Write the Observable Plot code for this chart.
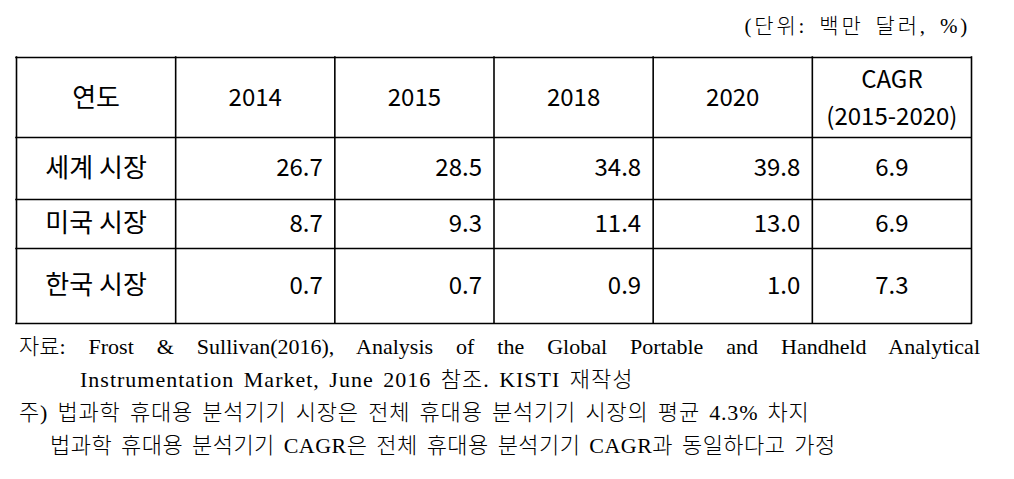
<!DOCTYPE html>
<html>
<head>
<meta charset="utf-8">
<script src="https://cdn.jsdelivr.net/npm/d3@7"></script>
<script src="https://cdn.jsdelivr.net/npm/@observablehq/plot@0.6"></script>
<style>
  html, body { margin: 0; padding: 0; background: #fff; }
  #unit { height: 45px; line-height: 52px; text-align: right; padding-right: 44px;
          font-family: "Liberation Serif", "Noto Sans CJK KR", serif; font-size: 21px; word-spacing: 4px; letter-spacing: 2.8px;
          font-weight: 300; color: #000; box-sizing: border-box; overflow: visible; white-space: nowrap; }
  #foot { font-family: "Liberation Serif", "Noto Sans CJK KR", serif; font-size: 22px; font-weight: 300; color: #000; }
  #foot div { height: 33px; line-height: 33px; white-space: nowrap; letter-spacing: 1px; word-spacing: 3px; }
  #foot .just { width: 961px; margin-left: 19px; text-align: justify; text-align-last: justify; white-space: normal; overflow: hidden; letter-spacing: 0; word-spacing: 0; }
  g[aria-label="row labels"] text { word-spacing: 10px; }
</style>
</head>
<body>
<div id="unit"></div>
<div id="chart"></div>
<div id="foot"></div>
<script>
// ---- data ----
const unitLabel = "(단위: 백만 달러, %)";
const headers = ["연도", "2014", "2015", "2018", "2020", "CAGR\n(2015-2020)"];
const markets = ["세계 시장", "미국 시장", "한국 시장"];
const v2014 = [26.7, 8.7, 0.7];
const v2015 = [28.5, 9.3, 0.7];
const v2018 = [34.8, 11.4, 0.9];
const v2020 = [39.8, 13.0, 1.0];
const cagr = [6.9, 6.9, 7.3];
const sourceLine1 = "자료: Frost & Sullivan(2016), Analysis of the Global Portable and Handheld Analytical";
const sourceLine2 = "Instrumentation Market, June 2016 참조. KISTI 재작성";
const noteLine1 = "주) 법과학 휴대용 분석기기 시장은 전체 휴대용 분석기기 시장의 평균 4.3% 차지";
const noteLine2 = "법과학 휴대용 분석기기 CAGR은 전체 휴대용 분석기기 CAGR과 동일하다고 가정";

// ---- derived table ----
const yearSeries = [v2014, v2015, v2018, v2020];
const cells = [];
markets.forEach((m, r) => {
  yearSeries.forEach((s, c) => cells.push({row: r + 1, col: c + 1, value: s[r]}));
});
const colEdges = d3.range(headers.length + 1);
const rowEdges = d3.range(markets.length + 2);
const isHangul = s => /[가-힣]/.test(s);

const font = "Noto Sans CJK KR";
const chart = Plot.plot({
  width: 1014,
  height: 285,
  margin: 0,
  x: {type: "linear", domain: [0, headers.length], range: [16, 971], axis: null},
  y: {type: "linear", domain: rowEdges, range: [12, 92, 154, 203, 278], axis: null},
  style: {background: "#fff"},
  marks: [
    Plot.ruleY(rowEdges, {y: d => d, x1: 0, x2: headers.length, stroke: "#000", strokeWidth: 1.6, strokeLinecap: "square"}),
    Plot.ruleX(colEdges, {x: d => d, y1: 0, y2: markets.length + 1, stroke: "#000", strokeWidth: 1.6, strokeLinecap: "square"}),
    Plot.text(headers, {x: (d, i) => i + 0.5, y: 0.5, text: d => d, dy: -3, fontFamily: font, fontSize: d => isHangul(d) ? 26 : 24, lineHeight: 1.54, fill: "#000"}),
    Plot.text(markets, {x: 0.5, y: (d, i) => i + 1.5, text: d => d, fontFamily: font, fontSize: 26, fill: "#000", ariaLabel: "row labels"}),
    Plot.text(cells, {x: d => d.col + 1, y: d => d.row + 0.5, text: d => d.value.toFixed(1), textAnchor: "end", dx: -12, fontFamily: font, fontSize: 24, fill: "#000"}),
    Plot.text(cagr, {x: headers.length - 0.5, y: (d, i) => i + 1.5, text: d => d.toFixed(1), fontFamily: font, fontSize: 24, fill: "#000"})
  ]
});
document.getElementById("chart").appendChild(chart);
document.getElementById("unit").textContent = unitLabel;

const foot = document.getElementById("foot");
const lines = [
  {text: sourceLine1, cls: "just", left: 19, ls: 0},
  {text: sourceLine2, cls: "", left: 80, ls: 1},
  {text: noteLine1, cls: "", left: 19, ls: 0.8},
  {text: noteLine2, cls: "", left: 50, ls: 0.45}
];
for (const l of lines) {
  const d = document.createElement("div");
  d.textContent = l.text;
  if (l.cls) d.className = l.cls;
  else { d.style.paddingLeft = l.left + "px"; d.style.letterSpacing = l.ls + "px"; }
  foot.appendChild(d);
}
</script>
</body>
</html>
